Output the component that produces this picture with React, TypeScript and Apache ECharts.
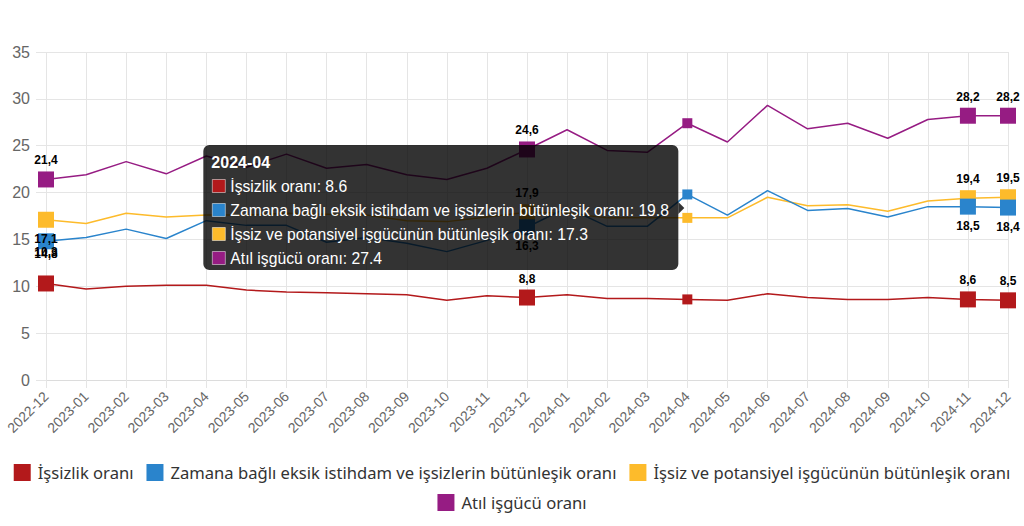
import React, { useEffect, useRef } from "react";
import * as echarts from "echarts";

const categories = [
  "2022-12", "2023-01", "2023-02", "2023-03", "2023-04", "2023-05", "2023-06",
  "2023-07", "2023-08", "2023-09", "2023-10", "2023-11", "2023-12", "2024-01",
  "2024-02", "2024-03", "2024-04", "2024-05", "2024-06", "2024-07", "2024-08",
  "2024-09", "2024-10", "2024-11", "2024-12",
];

const seriesNames = [
  "İşsizlik oranı",
  "Zamana bağlı eksik istihdam ve işsizlerin bütünleşik oranı",
  "İşsiz ve potansiyel işgücünün bütünleşik oranı",
  "Atıl işgücü oranı",
];

const unemployment = [10.3, 9.7, 10.0, 10.1, 10.1, 9.6, 9.4, 9.3, 9.2, 9.1, 8.5, 9.0, 8.8, 9.1, 8.7, 8.7, 8.6, 8.5, 9.2, 8.8, 8.6, 8.6, 8.8, 8.6, 8.5];
const timeRelated = [14.8, 15.2, 16.1, 15.1, 17.0, 16.5, 16.5, 14.7, 15.2, 14.6, 13.7, 14.9, 16.3, 18.4, 16.4, 16.4, 19.8, 17.6, 20.2, 18.1, 18.3, 17.4, 18.5, 18.5, 18.4];
const potential = [17.1, 16.7, 17.8, 17.4, 17.6, 17.6, 17.8, 17.7, 17.6, 17.0, 16.9, 17.4, 17.9, 17.8, 17.3, 17.3, 17.3, 17.3, 19.5, 18.6, 18.7, 18.0, 19.1, 19.4, 19.5];
const underutilization = [21.4, 21.9, 23.3, 22.0, 23.9, 22.7, 24.1, 22.6, 23.0, 21.9, 21.4, 22.6, 24.6, 26.7, 24.5, 24.3, 27.4, 25.4, 29.3, 26.8, 27.4, 25.8, 27.8, 28.2, 28.2];

const yTicks = [0, 5, 10, 15, 20, 25, 30, 35];

const colors = ["#b3191b", "#2a84cc", "#fdbb2b", "#961c83"];
const markedIdx = [0, 12, 23, 24];
const hoverIdx = 16;

const FONT = "'Liberation Sans', Arial, Helvetica, sans-serif";

function fmt(v: number) {
  return v.toFixed(1).replace(".", ",");
}

export default function App() {
  const ref = useRef<HTMLDivElement>(null);
  useEffect(() => {
    if (!ref.current) return;
    const chart = echarts.init(ref.current, null, { renderer: "svg" });
    const all = [unemployment, timeRelated, potential, underutilization];

    const labelPos = (s: number, i: number) => {
      if (s === 1) return "bottom";
      if (s === 2 && i === 0) return "bottom";
      return "top";
    };
    const labelOffset = (s: number, i: number) => {
      if (i === 0 && s === 1) return [0, -6];
      if (i === 0 && s === 0) return [0, -12];
      return [0, 0];
    };

    const lineSeries = all.map((vals, s) => ({
      name: seriesNames[s],
      type: "line",
      z: s === 1 ? 4 : 2 + s * 0.1,
      color: colors[s],
      lineStyle: { width: 1.5, color: colors[s] },
      emphasis: { disabled: true },
      symbol: "none",
      data: vals.map((v, i) => {
        if (markedIdx.includes(i)) {
          return { value: v, symbol: "rect", symbolSize: 16, itemStyle: { color: colors[s] } };
        }
        if (i === hoverIdx) {
          return { value: v, symbol: "rect", symbolSize: 10, itemStyle: { color: colors[s] } };
        }
        return { value: v, symbol: "none" };
      }),
    }));

    const labelSeries = all.map((vals, s) => ({
      name: "lbl" + s,
      type: "scatter",
      z: 100,
      silent: true,
      symbol: "rect",
      symbolSize: 16,
      itemStyle: { color: "rgba(0,0,0,0)" },
      emphasis: { disabled: true },
      data: vals.map((v, i) =>
        markedIdx.includes(i)
          ? {
              value: v,
              label: {
                show: true,
                position: labelPos(s, i),
                offset: labelOffset(s, i),
                distance: 5,
                formatter: fmt(v),
                fontFamily: FONT,
                fontWeight: "bold",
                fontSize: 12,
                color: "#000",
                opacity: 1,
              },
            }
          : "-"
      ),
    }));

    chart.setOption({
      animation: false,
      backgroundColor: "#fff",
      grid: { left: 46, right: 16, top: 52, bottom: 146, containLabel: false },
      legend: [
        {
          data: seriesNames.slice(0, 3),
          top: 459,
          left: "center",
          itemWidth: 17,
          itemHeight: 17,
          itemGap: 13,
          icon: "rect",
          selectedMode: false,
          textStyle: { fontFamily: "'Noto Sans', sans-serif", fontSize: 16.6, color: "#333", padding: [0, 0, 0, 2] },
        },
        {
          data: seriesNames.slice(3),
          top: 489,
          left: "center",
          itemWidth: 17,
          itemHeight: 17,
          itemGap: 13,
          icon: "rect",
          selectedMode: false,
          textStyle: { fontFamily: "'Noto Sans', sans-serif", fontSize: 16.6, color: "#333", padding: [0, 0, 0, 2] },
        },
      ],
      xAxis: {
        type: "category",
        data: categories,
        boundaryGap: false,
        axisLine: { show: true, lineStyle: { color: "#dcdcdc", width: 1 } },
        axisTick: { show: true, length: 8, lineStyle: { color: "#e5e5e5" } },
        splitLine: { show: true, lineStyle: { color: "#e5e5e5" } },
        axisLabel: {
          rotate: 45,
          margin: 14,
          fontSize: 14,
          color: "#666",
          fontFamily: FONT,
          interval: 0,
        },
      },
      yAxis: {
        type: "value",
        min: yTicks[0],
        max: yTicks[yTicks.length - 1],
        interval: 5,
        axisLine: { show: false },
        axisTick: { show: true, length: 10, lineStyle: { color: "#e5e5e5" } },
        splitLine: { show: true, lineStyle: { color: "#e5e5e5" } },
        axisLabel: {
          margin: 16,
          fontSize: 16,
          color: "#666",
          fontFamily: FONT,
        },
      },
      series: [...lineSeries, ...labelSeries],
    });

    // Tooltip-like box anchored to the hovered category
    const px = chart.convertToPixel({ xAxisIndex: 0 }, hoverIdx) as number;
    const boxW = 475;
    const boxH = 125;
    const boxRight = px - 9;
    const boxLeft = boxRight - boxW;
    const boxTop = 145;
    const arrowY = boxTop + 63;
    const children: any[] = [
      {
        type: "rect",
        z: 50,
        shape: { x: boxLeft, y: boxTop, width: boxW, height: boxH, r: 6 },
        style: { fill: "rgba(0,0,0,0.8)" },
      },
      {
        type: "polygon",
        z: 50,
        shape: { points: [[boxRight, arrowY - 6], [boxRight + 6, arrowY], [boxRight, arrowY + 6]] },
        style: { fill: "rgba(0,0,0,0.8)" },
      },
      {
        type: "text",
        z: 51,
        style: {
          text: categories[hoverIdx],
          x: boxLeft + 8,
          y: boxTop + 17,
          fill: "#fff",
          font: `bold 16px ${FONT}`,
          verticalAlign: "middle",
          textVerticalAlign: "middle",
        },
      },
    ];
    all.forEach((vals, s) => {
      const cy = boxTop + 41 + 24 * s;
      children.push({
        type: "rect",
        z: 51,
        shape: { x: boxLeft + 9, y: cy - 6.5, width: 13, height: 13 },
        style: { fill: colors[s], stroke: "#fff", lineWidth: 0.5 },
      });
      children.push({
        type: "text",
        z: 51,
        style: {
          text: `${seriesNames[s]}: ${vals[hoverIdx]}`,
          x: boxLeft + 27,
          y: cy,
          fill: "#fff",
          font: `15.7px ${FONT}`,
          verticalAlign: "middle",
          textVerticalAlign: "middle",
        },
      });
    });
    chart.setOption({ graphic: { elements: children } });

    return () => chart.dispose();
  }, []);
  return (
    <div
      ref={ref}
      style={{ position: "absolute", left: 0, top: 0, width: 1024, height: 526 }}
    />
  );
}
